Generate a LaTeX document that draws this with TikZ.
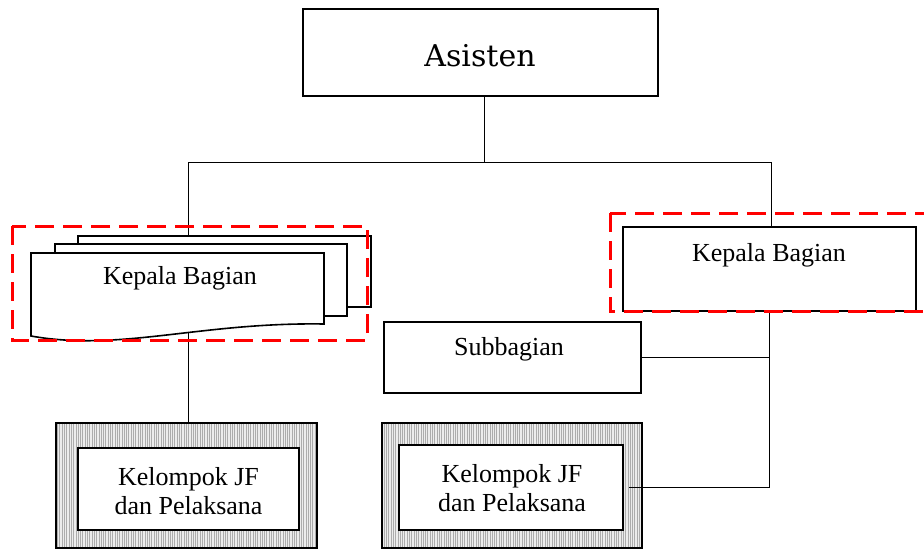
\documentclass[tikz,border=0pt]{standalone}
\usepackage{fontspec}
\setmainfont{Liberation Serif}
\newfontfamily\asfont{DejaVu Serif}
\usetikzlibrary{patterns.meta}
\tikzset{
  box/.style={draw=black, line width=1.8pt, fill=white, rectangle, inner sep=0pt},
  thinbox/.style={draw=black, line width=1.4pt, fill=white, rectangle, inner sep=0pt},
  hatchbox/.style={draw=black, line width=2.2pt, rectangle, inner sep=0pt,
    preaction={fill=gray!15},
    pattern={Lines[angle=90,distance=2.3pt,line width=0.7pt]}, pattern color=gray!65},
  lbl/.style={font=\fontsize{26}{29}\selectfont, align=center, inner sep=0pt},
  conn/.style={draw=black, line width=1pt},
  reddash/.style={draw=red, line width=3pt, dash pattern=on 19pt off 9pt},
  page/.style={draw=black, line width=1.6pt, fill=white}
}
\begin{document}
\begin{tikzpicture}[x=1pt,y=-1pt]
\useasboundingbox (0,0) rectangle (924,549);
% boxes
\node[box, line width=2.2pt, minimum width=355pt, minimum height=87pt] (asisten) at (480.5,52.5) {};
\node[font=\asfont\fontsize{30}{34}\selectfont, inner sep=0pt] (asistenT) at (480,56) {Asisten};
\node[box, minimum width=293pt, minimum height=84pt] (kbR) at (769.5,269) {};
\node[thinbox, minimum width=257pt, minimum height=71pt] (sub) at (512.5,357.5) {};
\node[hatchbox, minimum width=261pt, minimum height=125pt] (kelL) at (186.5,485.5) {};
\node[hatchbox, minimum width=260pt, minimum height=125pt] (kelR) at (512,485.5) {};
\node[box, minimum width=221pt, minimum height=82pt] (kelLin) at (188.5,489) {};
\node[box, minimum width=224pt, minimum height=85pt] (kelRin) at (511,487.5) {};
% connectors
\coordinate (junc) at (484,162);
\coordinate (busL) at (188,162);
\coordinate (busR) at (771,162);
\draw[conn] (junc |- asisten.south) -- (junc);
\draw[conn] (busL) -- (busR);
\draw[conn] (busL) -- (busL |- kelL.north);
\draw[conn] (busR) -- (busR |- kbR.north);
\draw[conn] (kbR.south) -- (kbR.south |- kelRin.east) -- ([xshift=5pt]kelRin.east);
\draw[conn] (sub.east) -- (sub.east -| kbR.south);
% stacked document
\node[page, rectangle, minimum width=293pt, minimum height=71pt, inner sep=0pt] (docback) at (224.5,271.5) {};
\node[page, rectangle, minimum width=292pt, minimum height=72pt, inner sep=0pt] (docmid) at (201,280) {};
\draw[page] (31,253) -- (324,253) -- (324,324) .. controls (200,322) and (120,352) .. (31,336) -- cycle;
% labels
\node[lbl] (kbLT) at (180,278) {Kepala Bagian};
\node[lbl] (kbRT) at (769,255) {Kepala Bagian};
\node[lbl] (subT) at (509,349) {Subbagian};
\node[lbl] (kelLT) at (188.5,491) {Kelompok JF\\dan Pelaksana};
\node[lbl] (kelRT) at (512,488) {Kelompok JF\\dan Pelaksana};
% red dashed highlights
\draw[reddash] (12,226) rectangle (367,340);
\draw[reddash] (610,213) rectangle (940,311);
\end{tikzpicture}
\end{document}
